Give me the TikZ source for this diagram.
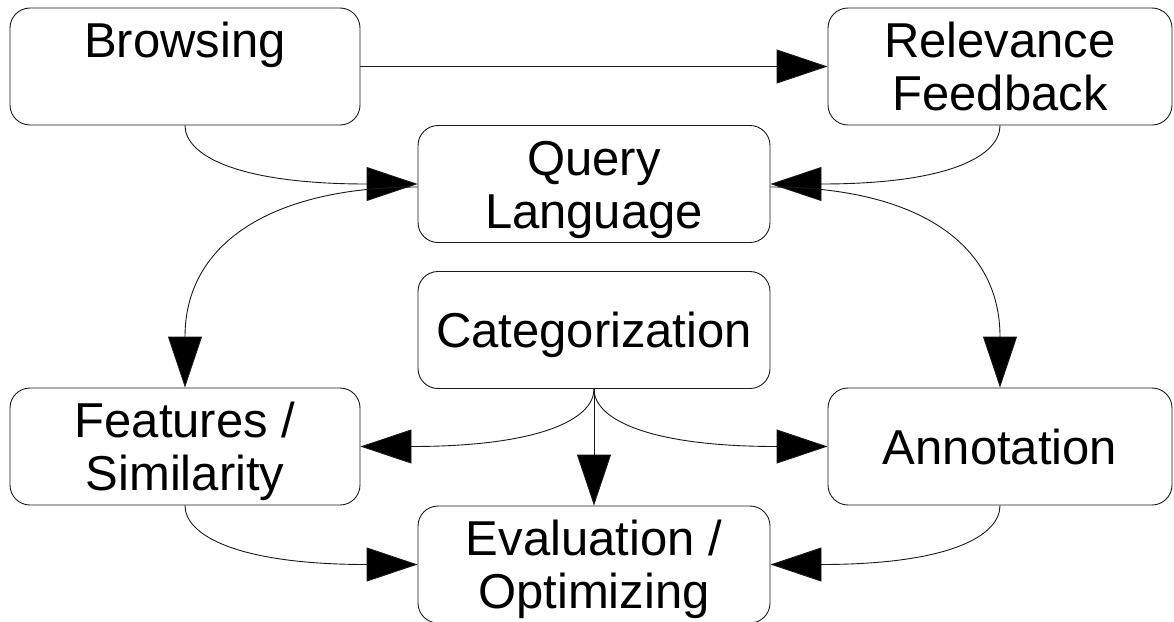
\documentclass[tikz,border=0pt]{standalone}
\usepackage{fontspec}
\setmainfont{Liberation Sans}
\usetikzlibrary{arrows.meta}
\begin{document}
\begin{tikzpicture}[x=1pt,y=-1pt,
  box/.style={draw=black!90, line width=0.9pt, rounded corners=20pt,
    inner sep=0pt, align=center, minimum height=117pt,
    font=\fontsize{49}{53}\selectfont},
  twoline/.style={text height=88pt, text depth=0pt},
  topline/.style={text height=35pt, text depth=53pt},
  oneline/.style={text height=35pt, text depth=0pt},
  flow/.style={draw=black!90, line width=0.9pt,
    -{Triangle[length=51pt,width=34pt,fill=black]}}]
\useasboundingbox (0,0) rectangle (1174,621);

% boxes
\node[box, topline, minimum width=350pt] (brw) at (185,66.5) {Browsing};
\node[box, twoline, minimum width=344pt] (rel) at (1000,66.5) {Relevance\\Feedback};
\node[box, twoline, minimum width=352pt] (qry) at (594,184) {Query\\Language};
\node[box, oneline, minimum width=352pt] (cat) at (594,330) {Categorization};
\node[box, twoline, minimum width=350pt] (feat) at (185,446.5) {Features /\\Similarity};
\node[box, oneline, minimum width=344pt] (ann) at (1000,446.5) {Annotation};
\node[box, twoline, minimum width=352pt] (eval) at (594,564.5) {Evaluation /\\Optimizing};

% connectors
\draw[flow] (brw.east) -- (rel.west);
\draw[flow] (brw.south) .. controls +(0,30) and +(-180,0) .. (qry.west);
\draw[flow] (rel.south) .. controls +(0,30) and +(180,0) .. (qry.east);
\draw[flow] ([yshift=-3pt]qry.west) .. controls +(-145,0) and +(0,-145) .. (feat.north);
\draw[flow] ([yshift=-3pt]qry.east) .. controls +(145,0) and +(0,-145) .. (ann.north);
\draw[flow] (cat.south) .. controls +(0,30) and +(180,0) .. (feat.east);
\draw[flow] (cat.south) .. controls +(0,30) and +(-180,0) .. (ann.west);
\draw[flow] (cat.south) -- (eval.north);
\draw[flow] (feat.south) .. controls +(0,30) and +(-180,0) .. (eval.west);
\draw[flow] (ann.south) .. controls +(0,30) and +(180,0) .. (eval.east);
\end{tikzpicture}
\end{document}
